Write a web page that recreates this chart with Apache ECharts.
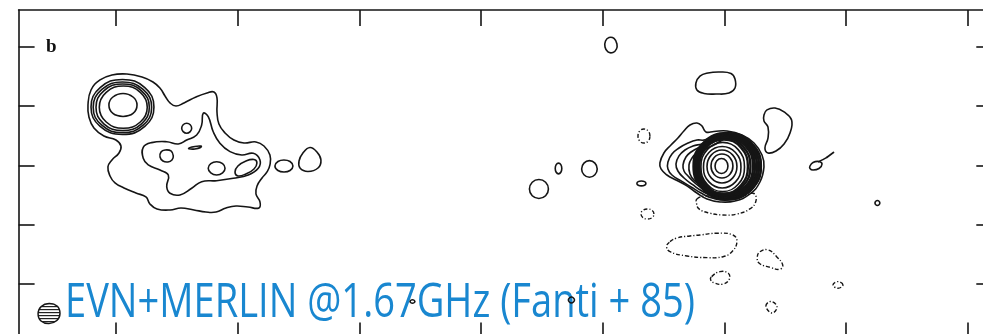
<!DOCTYPE html>
<html>
<head>
<meta charset="utf-8">
<script src="https://cdn.jsdelivr.net/npm/echarts@6/dist/echarts.min.js"></script>
<style>
  html, body { margin: 0; padding: 0; background: #ffffff; }
  #chart { width: 983px; height: 334px; }
</style>
</head>
<body>
<div id="chart"></div>
<script>
// Tick positions (relative offsets, x step 100, y step 50)
const xTicks = [0, 100, 200, 300, 400, 500, 600, 700];
const yTicks = [0, 50, 100, 150, 200];

// ---- Western component: compact knot rings ----
const knot1 = [[17.3,151.0],[14.0,157.7],[5.8,160.7],[-2.5,157.7],[-5.8,151.0],[-2.5,143.8],[5.8,141.3],[14.0,143.8]];
const knot2 = [[25.7,149.1],[20.0,161.6],[6.0,167.0],[-8.0,161.6],[-13.7,149.1],[-8.0,136.6],[6.0,131.3],[20.0,136.6]];
const knot3 = [[27.4,149.0],[21.0,162.9],[5.5,168.7],[-10.0,162.9],[-16.4,149.0],[-10.0,135.1],[5.5,129.3],[21.0,135.1]];
const knot4 = [[29.3,149.0],[22.3,164.1],[5.3,170.4],[-11.6,164.1],[-18.7,149.0],[-11.6,133.9],[5.3,127.6],[22.3,133.9]];
const knot5 = [[31.2,149.3],[23.7,165.6],[5.3,172.5],[-13.0,165.6],[-20.5,149.3],[-13.0,132.9],[5.3,126.1],[23.7,132.9]];

// Western component: lowest contour (envelope) and second level
const westEnvelope = [[-23.0,151.0],[-20.5,163.6],[-13.1,172.1],[-3.3,176.3],[9.0,177.1],[21.4,174.6],[30.4,170.4],[36.1,165.3],[40.3,158.6],[44.4,152.7],[49.3,150.1],[55.9,152.7],[65.7,157.7],[74.8,161.1],[80.5,161.9],[83.0,156.9],[83.0,145.1],[84.6,134.9],[89.6,127.4],[96.9,121.4],[105.2,118.9],[115.0,119.8],[121.6,116.4],[126.5,108.8],[126.5,100.4],[124.1,94.5],[120.0,89.4],[115.9,82.7],[115.0,75.9],[118.3,69.2],[117.5,64.1],[108.5,64.9],[98.6,65.8],[90.4,64.1],[82.2,60.7],[73.9,60.7],[64.1,62.4],[53.4,64.1],[44.4,62.4],[33.7,63.3],[27.9,67.5],[24.6,73.4],[16.4,76.7],[6.6,81.0],[-0.8,85.2],[-4.9,91.1],[-6.6,98.7],[-3.3,104.6],[2.5,110.5],[4.1,116.4],[0.0,121.4],[-9.9,124.8],[-18.1,131.6],[-22.2,140.8]];
const westLevel2 = [[22.4,115.3],[29.3,119.2],[41.7,120.0],[51.2,118.1],[58.1,121.4],[66.3,125.7],[70.4,134.1],[71.7,144.0],[75.8,141.1],[79.9,128.4],[85.4,118.7],[93.7,111.6],[103.3,108.8],[112.8,110.2],[118.3,104.6],[116.9,97.6],[108.7,91.9],[96.4,89.1],[82.7,87.1],[70.4,86.3],[62.2,80.7],[52.6,75.1],[44.4,76.5],[41.7,82.1],[43.0,91.9],[36.2,96.1],[26.5,100.4],[22.4,106.0]];
const westIsle1 = [[62.2,131.3],[61.0,134.3],[58.1,135.5],[55.2,134.3],[54.0,131.3],[55.2,128.5],[58.1,127.1],[61.0,128.5]];
const westIsle2 = [[47.1,108.0],[45.2,112.2],[40.3,113.0],[37.0,111.3],[36.2,107.1],[38.6,103.7],[42.7,102.9],[46.0,104.6]];
const westIsle3 = [[89.6,97.6],[87.6,101.5],[82.7,103.1],[77.9,101.5],[75.8,97.6],[77.9,93.6],[82.7,91.9],[87.6,93.6]];
const westIsle4 = [[97.8,94.5],[100.2,99.5],[106.8,103.7],[113.4,105.0],[115.8,102.1],[113.4,97.0],[106.8,92.8],[100.2,91.1]];
const westDash = [[59.6,114.3],[64.9,116.0],[70.2,116.0],[64.9,113.9]];
const westOut1 = [[145.4,99.5],[143.0,103.3],[138.0,104.6],[133.1,103.3],[130.6,99.5],[133.1,95.7],[138.0,94.5],[143.0,95.7]];
const westOut2 = [[159.4,115.1],[165.1,111.3],[168.4,104.6],[166.0,97.8],[157.7,94.9],[151.2,97.8],[150.4,103.7],[153.6,110.5]];

// ---- Eastern component: core rings ----
const core1 = [[502.8,99.5],[501.3,104.0],[497.5,105.8],[493.7,104.0],[492.2,99.5],[493.7,95.0],[497.5,93.2],[501.3,95.0]];
const core2 = [[506.9,99.5],[504.3,106.7],[497.9,109.6],[491.5,106.7],[488.9,99.5],[491.5,92.3],[497.9,89.4],[504.3,92.3]];
const core3 = [[510.2,99.1],[506.6,108.9],[497.9,113.0],[489.2,108.9],[485.6,99.1],[489.2,89.3],[497.9,85.2],[506.6,89.3]];
const core4 = [[513.5,98.5],[509.0,110.9],[498.1,116.0],[487.2,110.9],[482.7,98.5],[487.2,86.1],[498.1,81.0],[509.0,86.1]];
const core5 = [[516.4,98.7],[511.2,113.3],[498.5,119.4],[485.8,113.3],[480.6,98.7],[485.8,84.1],[498.5,78.0],[511.2,84.1]];
const band1 = [[519.2,99.1],[513.4,115.2],[499.3,121.9],[485.2,115.2],[479.4,99.1],[485.2,83.0],[499.3,76.3],[513.4,83.0]];
const band2 = [[521.3,99.3],[515.0,116.1],[499.9,123.1],[484.8,116.1],[478.5,99.3],[484.8,82.5],[499.9,75.5],[515.0,82.5]];
const band3 = [[523.4,99.3],[516.7,116.8],[500.6,124.0],[484.5,116.8],[477.8,99.3],[484.5,81.8],[500.6,74.6],[516.7,81.8]];
const band4 = [[525.0,99.3],[518.0,117.3],[501.0,124.8],[484.0,117.3],[477.0,99.3],[484.0,81.3],[501.0,73.8],[518.0,81.3]];
const band5 = [[526.7,99.3],[519.3,117.9],[501.4,125.7],[483.5,117.9],[476.1,99.3],[483.5,80.7],[501.4,72.9],[519.3,80.7]];
const band6 = [[528.3,99.3],[520.5,118.5],[501.8,126.5],[483.1,118.5],[475.3,99.3],[483.1,80.1],[501.8,72.1],[520.5,80.1]];
const band7 = [[529.9,99.3],[521.8,119.1],[502.2,127.3],[482.6,119.1],[474.5,99.3],[482.6,79.5],[502.2,71.3],[521.8,79.5]];

// Eastern component: low contours extending westward from the core
const lobe1 = [[446.9,102.1],[450.2,110.5],[456.0,117.2],[461.7,123.1],[466.6,129.0],[471.6,134.1],[477.3,135.8],[481.4,133.3],[484.7,128.2],[491.3,128.6],[502.0,129.0],[514.3,125.7],[524.2,118.9],[530.8,108.8],[532.4,98.7],[529.1,86.0],[520.9,75.9],[508.6,70.0],[496.3,69.2],[485.6,71.7],[477.3,76.7],[469.1,82.7],[460.1,87.7],[452.7,91.9],[447.8,97.0]];
const lobe2 = [[453.5,102.9],[456.8,109.6],[462.6,114.7],[470.0,118.9],[477.3,121.4],[483.1,121.4],[489.6,124.0],[502.0,126.9],[514.3,124.0],[523.4,116.4],[529.1,107.1],[530.0,96.1],[525.9,84.3],[516.8,75.1],[502.9,70.8],[489.8,72.5],[480.7,76.7],[472.5,81.8],[464.3,86.9],[456.8,91.9],[453.5,97.0]];
const lobe3 = [[460.1,101.2],[462.6,108.0],[467.5,113.0],[474.1,116.4],[481.4,118.1],[489.6,121.4],[502.0,125.7],[514.3,122.3],[522.6,114.7],[527.5,106.3],[528.3,96.1],[524.2,85.2],[516.0,76.7],[502.9,72.5],[490.6,74.2],[481.4,78.4],[474.1,83.5],[466.7,89.4],[461.7,95.3]];
const lobe4 = [[465.9,100.4],[468.3,107.1],[472.5,111.3],[478.2,114.7],[484.7,116.4],[492.9,120.6],[502.9,124.8],[514.3,121.4],[521.7,113.9],[525.9,105.4],[526.7,96.1],[522.6,86.0],[515.2,78.4],[502.9,74.2],[491.3,75.9],[482.3,80.1],[475.7,85.2],[470.0,91.1],[466.7,95.3]];
const lobe5 = [[470.8,100.4],[473.3,106.3],[477.3,110.5],[483.1,113.0],[491.3,117.2],[502.9,123.1],[514.3,120.6],[520.9,113.0],[524.2,104.6],[525.0,96.1],[520.9,86.9],[514.3,80.1],[502.9,75.9],[491.3,77.6],[482.3,81.8],[475.7,86.9],[471.6,92.8]];

// Isolated positive contours
const blobNorth = [[411.6,202.4],[409.2,207.1],[405.1,207.9],[402.2,204.9],[401.8,199.9],[404.2,195.7],[408.3,195.2],[411.2,198.2]];
const blobAbove = [[476.5,169.5],[479.8,175.4],[486.4,178.0],[496.3,178.8],[505.3,177.5],[508.6,172.9],[508.6,165.3],[503.7,161.1],[493.0,160.2],[483.1,160.7],[477.3,163.6]];
const blobEast = [[532.4,142.5],[534.9,146.8],[541.5,148.4],[548.9,145.1],[555.1,138.3],[553.8,127.4],[548.9,118.1],[542.3,112.2],[535.7,110.5],[533.2,114.7],[535.7,123.1],[535.7,132.4],[532.4,137.5]];
const blobLoop = [[570.2,99.5],[572.7,102.5],[577.6,103.3],[580.1,101.2],[577.6,97.4],[572.7,96.1],[570.2,97.4]];
const blobTail = [[576.8,102.9],[583.4,106.3],[590.0,111.3]];
const blobDot = [[627.6,68.3],[625.6,70.4],[623.6,68.3],[625.6,66.2]];
const blobWestA = [[355.3,80.1],[353.0,85.8],[347.5,88.1],[342.0,85.8],[339.7,80.1],[342.0,74.4],[347.5,72.1],[353.0,74.4]];
const blobWestB = [[366.3,97.4],[365.5,100.6],[363.6,101.9],[361.7,100.6],[360.9,97.4],[361.7,94.2],[363.6,92.9],[365.5,94.2]];
const blobWestC = [[395.4,97.0],[393.5,101.9],[389.0,104.0],[384.5,101.9],[382.6,97.0],[384.5,92.1],[389.0,90.0],[393.5,92.1]];
const blobWestD = [[435.4,84.8],[434.3,86.3],[431.7,86.9],[429.1,86.3],[428.0,84.8],[429.1,83.3],[431.7,82.7],[434.3,83.3]];
const speckA = [[376.7,-13.5],[374.2,-11.0],[371.7,-13.5],[374.2,-16.0]];
const speckB = [[245.6,-14.8],[243.6,-13.3],[241.6,-14.8],[243.6,-16.3]];

// Negative contours (dash-dot)
const negBelowCore = [[477.3,71.7],[484.7,74.2],[494.5,73.0],[505.2,73.4],[515.9,74.6],[524.1,76.3],[525.8,70.0],[520.8,63.3],[510.2,59.0],[498.7,58.2],[487.2,59.9],[479.0,63.3],[477.0,67.9]];
const negLong = [[455.2,35.7],[460.9,38.8],[471.6,40.5],[479.8,41.3],[493.8,42.8],[506.9,41.3],[510.2,35.7],[506.1,27.2],[498.7,23.0],[485.6,22.2],[469.1,23.6],[455.2,27.2],[452.4,31.5]];
const negSouthEast = [[529.1,27.2],[535.9,28.7],[542.8,23.0],[547.8,16.0],[545.5,12.4],[537.3,14.1],[528.5,17.5],[526.9,22.5]];
const negSmall = [[489.4,6.2],[496.3,10.4],[503.1,9.0],[503.9,4.0],[499.0,0.0],[492.2,0.6],[488.6,3.4]];
const negDiamond = [[534.0,-18.6],[538.1,-14.8],[543.1,-19.4],[539.0,-24.5]];
const negTiny = [[597.3,-0.8],[593.2,2.0],[589.1,-0.8],[593.2,-3.6]];
const negWestUp = [[438.7,124.8],[437.3,129.0],[433.8,130.7],[430.3,129.0],[428.9,124.8],[430.3,120.6],[433.8,118.9],[437.3,120.6]];
const negWestLow = [[442.0,59.0],[440.5,62.0],[436.7,63.2],[432.9,62.0],[431.4,59.0],[432.9,56.0],[436.7,54.8],[440.5,56.0]];

// Restoring beam (hatched ellipse, lower left)
const beam = [[-46.0,-24.9],[-48.4,-18.6],[-55.0,-16.5],[-61.4,-19.0],[-64.0,-24.9],[-61.6,-31.2],[-55.0,-33.3],[-48.6,-30.8]];

const positive = [westEnvelope, westLevel2, knot5, knot4, knot3, knot2, knot1,
  westIsle1, westIsle2, westIsle3, westIsle4, westDash, westOut1, westOut2,
  lobe1, lobe2, lobe3, lobe4, lobe5, core5, core4, core3, core2, core1,
  blobNorth, blobAbove, blobEast, blobLoop, blobDot,
  blobWestA, blobWestB, blobWestC, blobWestD, speckA, speckB];
const bandRings = [band7, band6, band5, band4, band3, band2, band1];
const negative = [negBelowCore, negLong, negSouthEast, negSmall, negDiamond, negTiny, negWestUp, negWestLow];
const openPaths = [blobTail];

const INK = '#151515';

function contourSeries(list, style, closed) {
  return {
    type: 'custom',
    coordinateSystem: 'cartesian2d',
    silent: true,
    animation: false,
    data: list.map(c => c[0]),
    renderItem: function (params, api) {
      const pts = list[params.dataIndex].map(p => api.coord(p));
      return {
        type: closed ? 'polygon' : 'polyline',
        shape: { points: pts, smooth: closed ? 0.45 : 0.3 },
        style: Object.assign({ fill: null, stroke: INK }, style)
      };
    }
  };
}

// stripe pattern for the beam
const stripe = document.createElement('canvas');
stripe.width = 4; stripe.height = 3;
(function () {
  const g = stripe.getContext('2d');
  g.fillStyle = '#ffffff'; g.fillRect(0, 0, 4, 3);
  g.fillStyle = '#222222'; g.fillRect(0, 0, 4, 1.2);
})();

const axisBase = {
  type: 'value',
  axisLine: { show: true, onZero: false, lineStyle: { color: INK, width: 1.6 } },
  axisLabel: { show: false },
  splitLine: { show: false }
};
function xAx(pos) {
  return Object.assign({}, axisBase, {
    position: pos, min: -80, max: 720,
    axisTick: { show: true, inside: true, length: 16, customValues: xTicks, lineStyle: { color: INK, width: 1.6 } }
  });
}
function yAx(pos) {
  return Object.assign({}, axisBase, {
    position: pos, min: -46, max: 231,
    axisTick: { show: true, inside: true, length: 16, customValues: yTicks, lineStyle: { color: INK, width: 1.6 } }
  });
}

const chart = echarts.init(document.getElementById('chart'), null, { renderer: 'canvas' });
chart.setOption({
  backgroundColor: '#ffffff',
  animation: false,
  grid: { left: 18.6, top: 10.1, width: 973.7, height: 328.4, containLabel: false, outerBoundsMode: 'none' },
  xAxis: [xAx('bottom'), xAx('top')],
  yAxis: [yAx('left'), yAx('right')],
  series: [
    contourSeries(positive, { lineWidth: 1.6 }, true),
    contourSeries(bandRings, { lineWidth: 2.4 }, true),
    contourSeries(negative, { lineWidth: 1.4, lineDash: [4, 2, 1.2, 2] }, true),
    contourSeries(openPaths, { lineWidth: 1.6 }, false),
    {
      type: 'custom',
      coordinateSystem: 'cartesian2d',
      silent: true,
      animation: false,
      data: [beam[0]],
      renderItem: function (params, api) {
        return {
          type: 'polygon',
          shape: { points: beam.map(p => api.coord(p)), smooth: 0.45 },
          style: { fill: { image: stripe, repeat: 'repeat' }, stroke: INK, lineWidth: 1.5 }
        };
      }
    }
  ],
  graphic: [
    {
      type: 'text', left: 46, top: 38, silent: true,
      style: { text: 'b', font: 'bold 19px "Liberation Serif", serif', fill: '#111' }
    },
    {
      type: 'text', x: 65, y: 280, scaleX: 0.81, scaleY: 1, silent: true,
      style: { text: 'EVN+MERLIN @1.67GHz (Fanti + 85)', font: '47px "Open Sans", sans-serif', fill: '#1987d0', textVerticalAlign: 'top' }
    }
  ]
});
</script>
</body>
</html>
